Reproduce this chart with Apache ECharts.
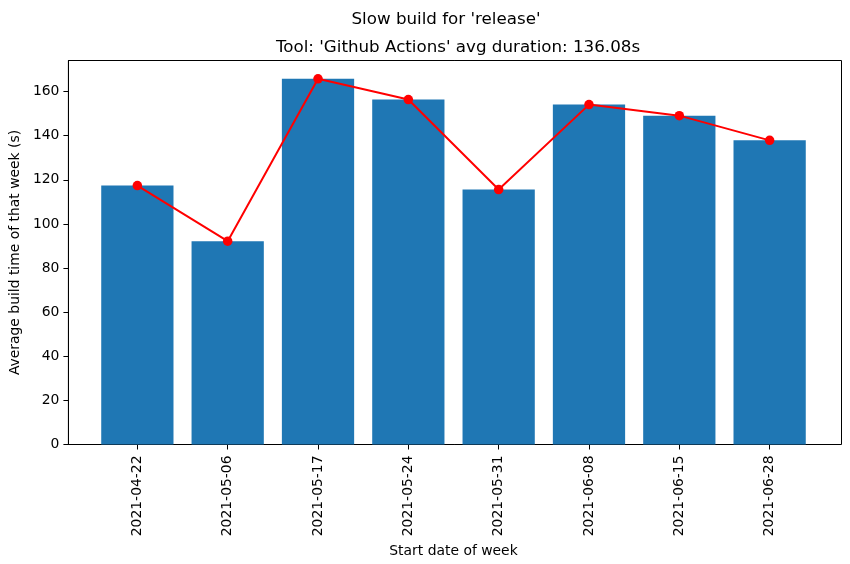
<!DOCTYPE html>
<html>
<head>
<meta charset="utf-8">
<script src="https://cdn.jsdelivr.net/npm/echarts@6/dist/echarts.min.js"></script>
<style>html,body{margin:0;padding:0;background:#fff}#c{width:850px;height:564px}</style>
</head>
<body>
<div id="c"></div>
<script>
const categories = ['2021-04-22','2021-05-06','2021-05-17','2021-05-24','2021-05-31','2021-06-08','2021-06-15','2021-06-28'];
const durations = [117.4, 92.2, 165.8, 156.4, 115.6, 154.1, 149.1, 137.9];
const yTicks = [0, 20, 40, 60, 80, 100, 120, 140, 160];
const suptitle = "Slow build for 'release'";
const subtitle = "Tool: 'Github Actions' avg duration: 136.08s";

const font = 'DejaVu Sans';
const yMax = 174.1;
const chart = echarts.init(document.getElementById('c'), null, {renderer: 'canvas'});
chart.setOption({
  animation: false,
  backgroundColor: '#fff',
  textStyle: {fontFamily: font},
  title: [
    {text: suptitle, left: 441, top: 6, textAlign: 'center',
     textStyle: {fontFamily: font, fontSize: 16.7, fontWeight: 'normal', color: '#000'}},
    {text: subtitle, left: 453, top: 34, textAlign: 'center',
     textStyle: {fontFamily: font, fontSize: 16.7, fontWeight: 'normal', color: '#000'}}
  ],
  grid: [
    {left: 66.5, right: 8.5, top: 60.5, bottom: 119.5, show: true, borderColor: '#000', borderWidth: 1, backgroundColor: 'transparent'},
    {left: 92.2, right: 35.2, top: 60.5, bottom: 119.5}
  ],
  xAxis: [
    {gridIndex: 0, type: 'value', min: 0, max: 1, show: false},
    {gridIndex: 1, type: 'category', data: categories, boundaryGap: true,
     axisLine: {show: false},
     axisTick: {show: true, alignWithLabel: true, length: 5, lineStyle: {color: '#000'}},
     axisLabel: {rotate: 90, margin: 11, fontSize: 13.9, color: '#000', fontFamily: font, interval: 0},
     name: 'Start date of week', nameLocation: 'middle', nameGap: 94,
     nameTextStyle: {fontSize: 13.9, color: '#000', fontFamily: font}
    }
  ],
  yAxis: [
    {gridIndex: 0, type: 'value', min: 0, max: yMax, interval: 20,
     axisLine: {show: true, lineStyle: {color: '#000'}},
     axisTick: {show: true, length: 5, lineStyle: {color: '#000'}, customValues: yTicks},
     axisLabel: {fontSize: 13.9, color: '#000', margin: 9, fontFamily: font, customValues: yTicks},
     splitLine: {show: false},
     name: 'Average build time of that week (s)', nameLocation: 'middle', nameGap: 43,
     nameTextStyle: {fontSize: 13.9, color: '#000', fontFamily: font}
    },
    {gridIndex: 1, type: 'value', min: 0, max: yMax, show: false, splitLine: {show: false}}
  ],
  series: [
    {type: 'bar', xAxisIndex: 1, yAxisIndex: 1, data: durations, barWidth: '80%',
     itemStyle: {color: '#1f77b4'}, z: 2},
    {type: 'line', xAxisIndex: 1, yAxisIndex: 1, data: durations,
     lineStyle: {color: '#ff0000', width: 2}, itemStyle: {color: '#ff0000'},
     symbol: 'circle', symbolSize: 9.5, showSymbol: true, z: 3}
  ]
});
</script>
</body>
</html>
